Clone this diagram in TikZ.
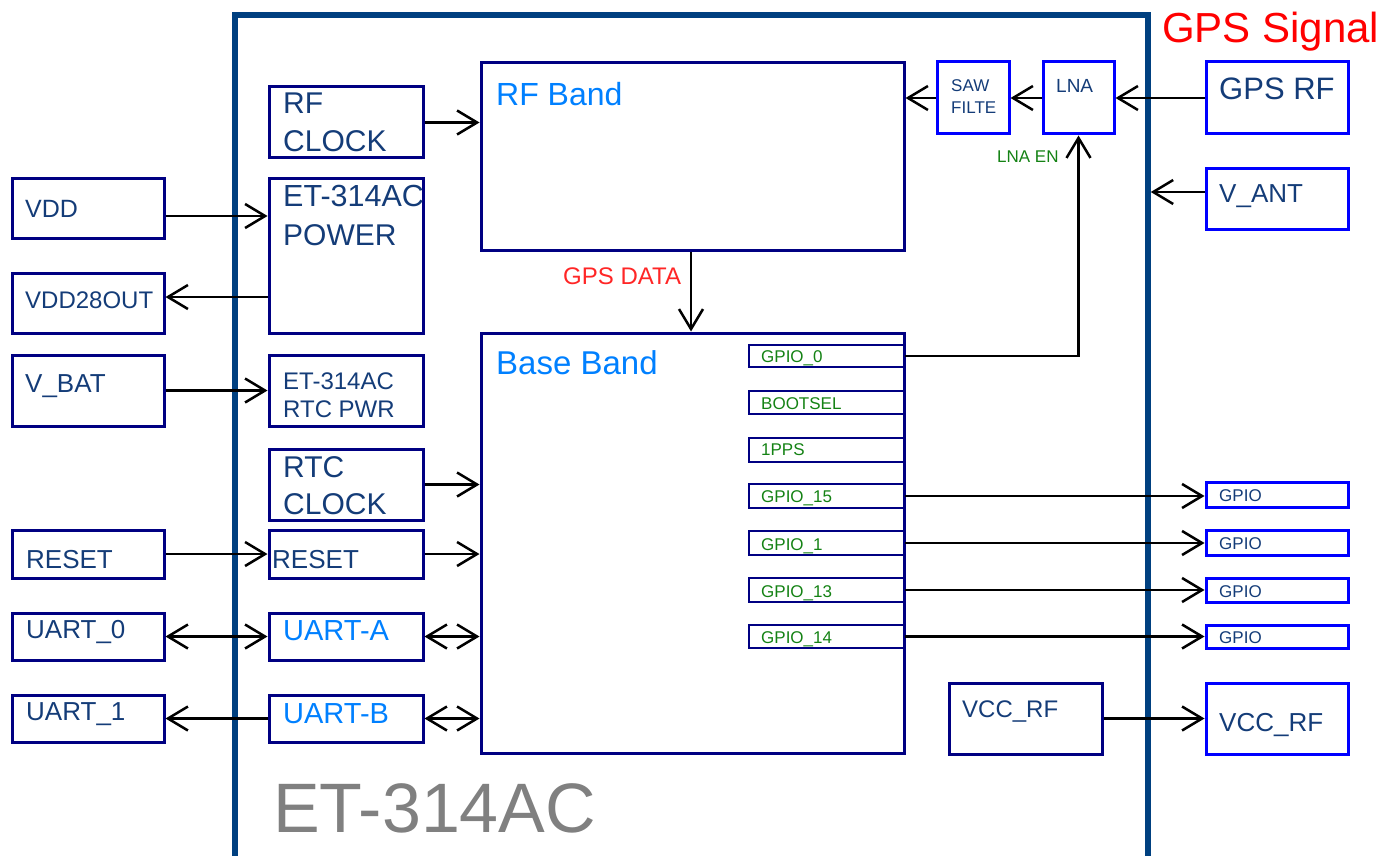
\documentclass[tikz,border=0pt]{standalone}
\usepackage{fontspec}
\setmainfont{Liberation Sans}
\usetikzlibrary{arrows.meta,fit}
\definecolor{navy}{RGB}{0,0,130}
\definecolor{bblue}{RGB}{0,0,255}
\definecolor{tblue}{RGB}{20,60,120}
\definecolor{lblue}{RGB}{0,128,255}
\definecolor{pgreen}{RGB}{20,130,20}
\definecolor{frameblue}{RGB}{0,64,128}
\definecolor{bigray}{RGB}{128,128,128}
\newcommand\fs[1]{\fontsize{#1}{#1}\selectfont}
\newcommand\Bx[6]{\node[#1, fit={(#3,#4) (#5,#6)}] (#2) {};}
\newcommand\Tx[5]{\node[tx,#1] (#2) at (#3,#4) {#5};}
\begin{document}
\begin{tikzpicture}[x=1pt,y=-1pt,
  bxn/.style={draw=navy,line width=3pt,inner sep=0pt},
  bxb/.style={draw=bblue,line width=3pt,inner sep=0pt},
  pinbox/.style={draw=navy,line width=2.5pt,inner sep=0pt},
  framebox/.style={draw=frameblue,line width=5.5pt,inner sep=0pt},
  tx/.style={anchor=base west,inner sep=0pt,text=tblue},
  wire/.style={line width=2.5pt,draw=black},
  >={Straight Barb[length=20pt,width=24pt]}
]
\path[use as bounding box] (0,0) rectangle (1382,856);
\begin{scope}
\clip (0,0) rectangle (1382,856);
\Bx{framebox}{frame}{235}{15}{1148}{880}
\end{scope}

% left outer boxes
\Bx{bxn}{vdd}{12}{179}{164}{238}
\Bx{bxn}{vdd28}{12}{273}{164}{333}
\Bx{bxn}{vbat}{12}{355}{164}{426}
\Bx{bxn}{reseto}{12}{530}{164}{578}
\Bx{bxn}{uart0}{12}{613}{164}{660}
\Bx{bxn}{uart1}{12}{695}{164}{742}
% inner left column
\Bx{bxn}{rfclk}{269}{87}{423}{158}
\Bx{bxn}{power}{269}{179}{423}{333}
\Bx{bxn}{rtcpwr}{269}{355}{423}{426}
\Bx{bxn}{rtcclk}{269}{449}{423}{520}
\Bx{bxn}{reseti}{269}{530}{423}{578}
\Bx{bxn}{uarta}{269}{613}{423}{660}
\Bx{bxn}{uartb}{269}{695}{423}{742}
% bands
\Bx{bxn}{rfband}{481}{63}{904}{250}
\Bx{bxn}{baseband}{481}{333}{904}{753}
% pins
\Bx{pinbox}{gpio0}{749}{345}{904}{367}
\Bx{pinbox}{bootsel}{749}{391}{904}{414}
\Bx{pinbox}{pps}{749}{438}{904}{462}
\Bx{pinbox}{gpio15}{749}{484}{904}{508}
\Bx{pinbox}{gpio1}{749}{531}{904}{555}
\Bx{pinbox}{gpio13}{749}{578}{904}{602}
\Bx{pinbox}{gpio14}{749}{625}{904}{648}
% right side
\Bx{bxb}{saw}{937}{62}{1009}{134}
\Bx{bxb}{lna}{1043}{62}{1114}{134}
\Bx{bxb}{gpsrf}{1206}{62}{1348}{134}
\Bx{bxb}{vant}{1206}{169}{1348}{229}
\Bx{bxb}{gpioA}{1206}{482}{1348}{507}
\Bx{bxb}{gpioB}{1206}{530}{1348}{555}
\Bx{bxb}{gpioC}{1206}{578}{1348}{602}
\Bx{bxb}{gpioD}{1206}{625}{1348}{648}
\Bx{bxn}{vccrfi}{949}{683}{1102}{754}
\Bx{bxb}{vccrfo}{1206}{683}{1348}{754}

% helper coordinates
\coordinate (rVdd) at (0,216);
\coordinate (rVdo) at (0,297);
\coordinate (rVant) at (0,192);
\coordinate (cData) at (691,0);

% connectors
\draw[wire,->] (rfclk.east) -- (rfclk.east -| rfband.west);
\draw[wire,->] (vdd.east |- rVdd) -- (power.west |- rVdd);
\draw[wire,->] (power.west |- rVdo) -- (vdd28.east |- rVdo);
\draw[wire,->] (vbat.east) -- (vbat.east -| rtcpwr.west);
\draw[wire,->] (rtcclk.east) -- (rtcclk.east -| baseband.west);
\draw[wire,->] (reseto.east) -- (reseti.west);
\draw[wire,->] (reseti.east) -- (reseti.east -| baseband.west);
\draw[wire,<->] (uart0.east) -- (uarta.west);
\draw[wire,<->] (uarta.east) -- (uarta.east -| baseband.west);
\draw[wire,->] (uartb.west) -- (uart1.east);
\draw[wire,<->] (uartb.east) -- (uartb.east -| baseband.west);
\draw[wire,->] (gpsrf.west) -- (lna.east);
\draw[wire,->] (lna.west) -- (saw.east);
\draw[wire,->] (saw.west) -- (saw.west -| rfband.east);
\draw[wire,->] (vant.west |- rVant) -- (frame.east |- rVant);
\draw[wire,->] (rfband.south -| cData) -- (baseband.north -| cData);
\draw[wire,->] (gpio0.east) -| (lna.south);
\draw[wire,->] (gpio15.east) -- (gpio15.east -| gpioA.west);
\draw[wire,->] (gpio1.east) -- (gpio1.east -| gpioB.west);
\draw[wire,->] (gpio13.east) -- (gpio13.east -| gpioC.west);
\draw[wire,->] (gpio14.east) -- (gpio14.east -| gpioD.west);
\draw[wire,->] (vccrfi.east) -- (vccrfi.east -| vccrfo.west);

% texts
\Tx{font=\fs{42},text=red}{tSig}{1162}{43}{GPS Signal}
\Tx{font=\fs{25}}{tVdd}{25}{217}{VDD}
\Tx{font=\fs{24}}{tVdd28}{25}{308}{VDD28OUT}
\Tx{font=\fs{26}}{tVbat}{25}{392}{V\_BAT}
\Tx{font=\fs{26}}{tResO}{26}{568}{RESET}
\Tx{font=\fs{26}}{tU0}{26}{638}{UART\_0}
\Tx{font=\fs{26}}{tU1}{26}{720}{UART\_1}
\Tx{font=\fs{30}}{tRf1}{283}{114}{RF}
\Tx{font=\fs{30}}{tRf2}{283}{152}{CLOCK}
\Tx{font=\fs{30.5}}{tPw1}{283}{207}{ET-314AC}
\Tx{font=\fs{30}}{tPw2}{283}{245}{POWER}
\Tx{font=\fs{24}}{tRp1}{283}{389}{ET-314AC}
\Tx{font=\fs{24}}{tRp2}{283}{417}{RTC PWR}
\Tx{font=\fs{30}}{tRc1}{283}{477}{RTC}
\Tx{font=\fs{30}}{tRc2}{283}{514}{CLOCK}
\Tx{font=\fs{26}}{tResI}{272}{568}{RESET}
\Tx{font=\fs{29},text=lblue}{tUa}{283}{640}{UART-A}
\Tx{font=\fs{29},text=lblue}{tUb}{283}{723}{UART-B}
\Tx{font=\fs{32},text=lblue}{tRfB}{496}{106}{RF Band}
\Tx{font=\fs{33},text=lblue}{tBB}{496}{374}{Base Band}
\Tx{font=\fs{24},text=red!85!white}{tData}{563}{284}{GPS DATA}
\Tx{font=\fs{17},text=pgreen}{tP0}{761}{362}{GPIO\_0}
\Tx{font=\fs{17},text=pgreen}{tP1}{761}{409}{BOOTSEL}
\Tx{font=\fs{17},text=pgreen}{tP2}{761}{455}{1PPS}
\Tx{font=\fs{17},text=pgreen}{tP3}{761}{502}{GPIO\_15}
\Tx{font=\fs{17},text=pgreen}{tP4}{761}{550}{GPIO\_1}
\Tx{font=\fs{17},text=pgreen}{tP5}{761}{597}{GPIO\_13}
\Tx{font=\fs{17},text=pgreen}{tP6}{761}{643}{GPIO\_14}
\Tx{font=\fs{17}}{tSaw1}{951}{92}{SAW}
\Tx{font=\fs{17}}{tSaw2}{951}{114}{FILTE}
\Tx{font=\fs{19}}{tLna}{1056}{93}{LNA}
\Tx{font=\fs{17},text=pgreen}{tLnaEn}{997}{163}{LNA EN}
\Tx{font=\fs{31}}{tGpsRf}{1219}{100}{GPS RF}
\Tx{font=\fs{26}}{tVant}{1219}{203}{V\_ANT}
\Tx{font=\fs{17}}{tGa}{1219}{501}{GPIO}
\Tx{font=\fs{17}}{tGb}{1219}{549}{GPIO}
\Tx{font=\fs{17}}{tGc}{1219}{597}{GPIO}
\Tx{font=\fs{17}}{tGd}{1219}{643}{GPIO}
\Tx{font=\fs{24}}{tVcc1}{962}{717}{VCC\_RF}
\Tx{font=\fs{26}}{tVcc2}{1219}{731}{VCC\_RF}
\Tx{font=\fs{70},text=bigray}{tBig}{273}{832}{ET-314AC}
\end{tikzpicture}
\end{document}
